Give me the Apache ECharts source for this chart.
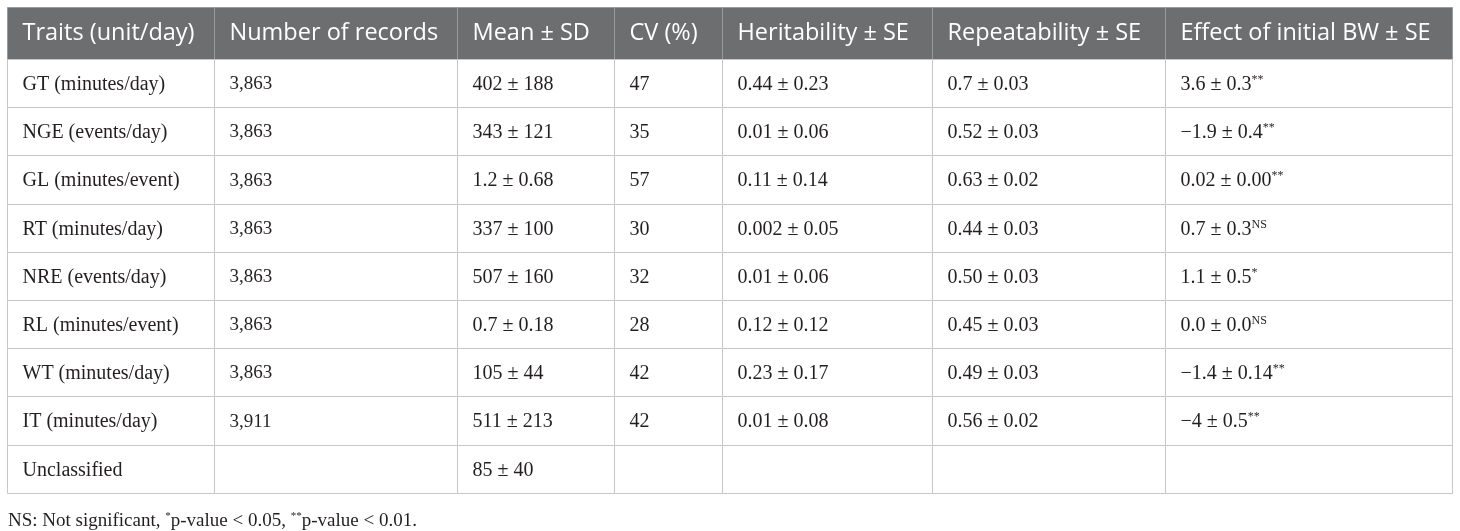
<!DOCTYPE html>
<html>
<head>
<meta charset="utf-8">
<script src="https://cdn.jsdelivr.net/npm/echarts@6/dist/echarts.min.js"></script>
<style>
html,body{margin:0;padding:0;background:#fff;}
#main{width:1460px;height:531px;}
</style>
</head>
<body>
<div id="main"></div>
<script>
// table content
var headers = ['Traits (unit/day)', 'Number of records', 'Mean \u00b1 SD', 'CV (%)', 'Heritability \u00b1 SE', 'Repeatability \u00b1 SE', 'Effect of initial BW \u00b1 SE'];
var traits = ['GT (minutes/day)', 'NGE (events/day)', 'GL (minutes/event)', 'RT (minutes/day)', 'NRE (events/day)', 'RL (minutes/event)', 'WT (minutes/day)', 'IT (minutes/day)', 'Unclassified'];
var records = ['3,863', '3,863', '3,863', '3,863', '3,863', '3,863', '3,863', '3,911', ''];
var means = ['402 \u00b1 188', '343 \u00b1 121', '1.2 \u00b1 0.68', '337 \u00b1 100', '507 \u00b1 160', '0.7 \u00b1 0.18', '105 \u00b1 44', '511 \u00b1 213', '85 \u00b1 40'];
var cvs = ['47', '35', '57', '30', '32', '28', '42', '42', ''];
var heritability = ['0.44 \u00b1 0.23', '0.01 \u00b1 0.06', '0.11 \u00b1 0.14', '0.002 \u00b1 0.05', '0.01 \u00b1 0.06', '0.12 \u00b1 0.12', '0.23 \u00b1 0.17', '0.01 \u00b1 0.08', ''];
var repeatability = ['0.7 \u00b1 0.03', '0.52 \u00b1 0.03', '0.63 \u00b1 0.02', '0.44 \u00b1 0.03', '0.50 \u00b1 0.03', '0.45 \u00b1 0.03', '0.49 \u00b1 0.03', '0.56 \u00b1 0.02', ''];
var effects = ['3.6 \u00b1 0.3', '\u22121.9 \u00b1 0.4', '0.02 \u00b1 0.00', '0.7 \u00b1 0.3', '1.1 \u00b1 0.5', '0.0 \u00b1 0.0', '\u22121.4 \u00b1 0.14', '\u22124 \u00b1 0.5', ''];
var effectSig = ['**', '**', '**', 'NS', '*', 'NS', '**', '**', ''];
var footnote = 'NS: Not significant, {sup|*}p-value < 0.05, {sup|**}p-value < 0.01.';

// layout (pixels inside the grid)
var colEdges = [0, 207, 450, 607, 715, 925, 1158, 1445];
var colFontSize = [20, 19, 20, 20, 20, 20, 20];
var headH = 52, rowH = 48.2;
var rowEdges = [0];
for (var i = 0; i <= traits.length; i++) rowEdges.push(headH + i * rowH);

var columns = [traits, records, means, cvs, heritability, repeatability, effects];

// one data item per cell: [col, row, text]
var cells = [];
headers.forEach(function (h, c) { cells.push([c, 0, h]); });
traits.forEach(function (t, r) {
  columns.forEach(function (col, c) {
    var txt = col[r];
    if (c === 6 && txt && effectSig[r]) txt = txt + '{sup|' + effectSig[r] + '}';
    cells.push([c, r + 1, txt]);
  });
});

var chart = echarts.init(document.getElementById('main'));

function renderCell(params, api) {
  var c = api.value(0), r = api.value(1);
  var txt = cells[params.dataIndex][2];
  var p0 = api.coord([colEdges[c], rowEdges[r]]);
  var p1 = api.coord([colEdges[c + 1], rowEdges[r + 1]]);
  var x0 = Math.round(p0[0]) + 0.5, y0 = Math.round(p0[1]) + 0.5;
  var x1 = Math.round(p1[0]) + 0.5, y1 = Math.round(p1[1]) + 0.5;
  var isHead = r === 0;
  return {
    type: 'group',
    children: [{
      type: 'rect',
      shape: { x: x0, y: y0, width: x1 - x0, height: y1 - y0 },
      style: { fill: isHead ? '#6d6e70' : '#fff', stroke: isHead ? '#9a9a9c' : '#c6c6c6', lineWidth: 1 }
    }, {
      type: 'text',
      style: {
        text: txt,
        x: x0 + 15,
        y: (y0 + y1) / 2 + (isHead ? 0 : 1),
        verticalAlign: 'middle',
        fill: isHead ? '#fff' : '#231f20',
        fontFamily: isHead ? '"Open Sans"' : '"Liberation Serif"',
        fontSize: isHead ? 23.5 : colFontSize[c],
        rich: {
          sup: { fontSize: 12, fontFamily: '"Liberation Serif"', fill: '#231f20', verticalAlign: 'top', padding: [0, 0, 10, 0] }
        }
      }
    }]
  };
}

chart.setOption({
  animation: false,
  title: {
    text: footnote,
    left: 3,
    top: 506,
    textStyle: {
      fontFamily: '"Liberation Serif"', fontSize: 19, fontWeight: 'normal', color: '#231f20',
      rich: { sup: { fontSize: 11, fontFamily: '"Liberation Serif"', color: '#231f20', padding: [0, 0, 9, 0] } }
    }
  },
  grid: { left: 7, right: 8, top: 7, bottom: 531 - 7 - rowEdges[rowEdges.length - 1] },
  xAxis: { type: 'value', min: 0, max: colEdges[colEdges.length - 1], show: false },
  yAxis: { type: 'value', min: 0, max: rowEdges[rowEdges.length - 1], inverse: true, show: false },
  series: [{
    type: 'custom',
    renderItem: renderCell,
    data: cells.map(function (d) { return [d[0], d[1]]; }),
    clip: false
  }]
});
</script>
</body>
</html>
